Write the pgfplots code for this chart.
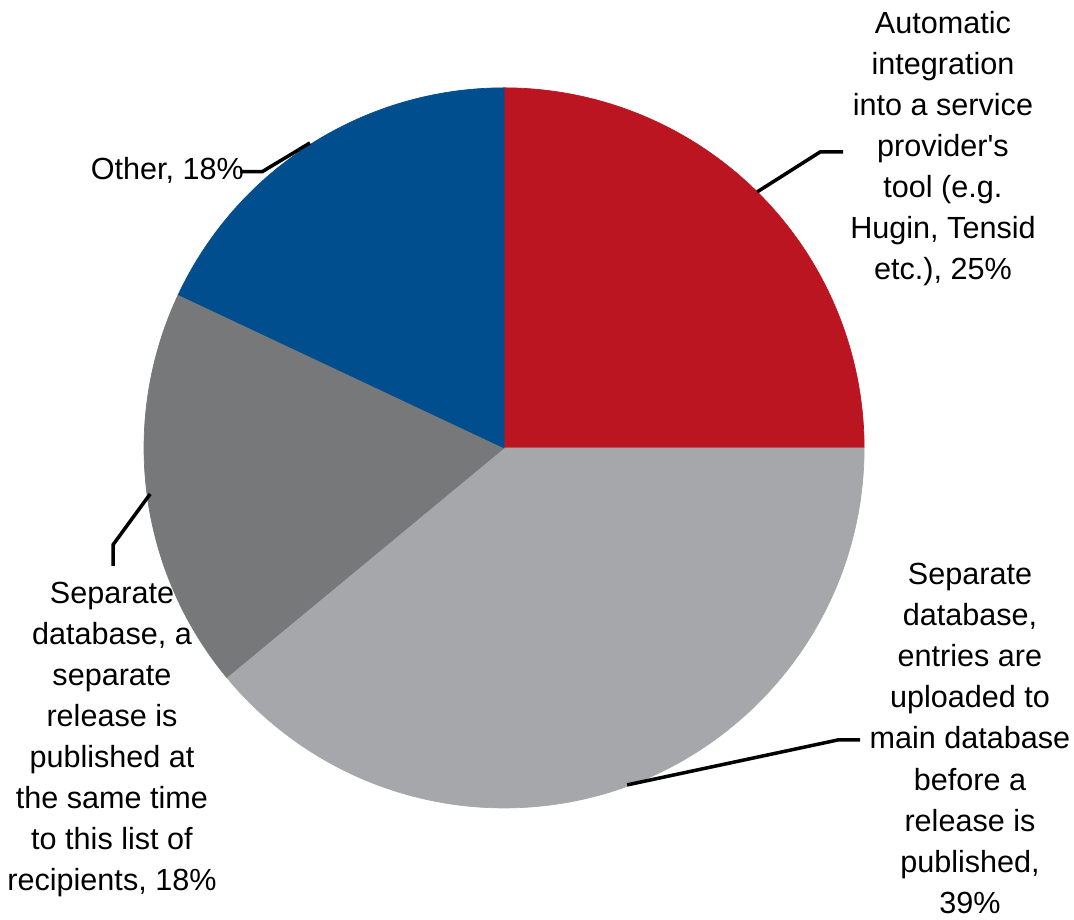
\documentclass[border=0pt]{standalone}
\usepackage{fontspec}
\setmainfont{Liberation Sans}
\usepackage{pgfplots}
\usepackage{pgfplotstable}
\pgfplotsset{compat=1.18}

\definecolor{pieRed}{RGB}{187,21,34}
\definecolor{pieLight}{RGB}{166,167,170}
\definecolor{pieDark}{RGB}{119,120,122}
\definecolor{pieBlue}{RGB}{0,78,142}

\tikzset{lbl/.style={font=\fontsize{8.7}{11.7}\selectfont, align=center, text=black, inner sep=0pt}}

% shares in percent, clockwise from 12 o'clock
\pgfplotstableread[col sep=comma]{
share,color
25,pieRed
39,pieLight
18,pieDark
18,pieBlue
}\piedata

\begin{document}
\begin{tikzpicture}
% cumulative angles of the slices
\def\cumangle{90}
\pgfplotsforeachungrouped \i in {0,...,3}{
  \pgfplotstablegetelem{\i}{share}\of\piedata
  \pgfmathsetmacro\endangle{\cumangle-3.6*\pgfplotsretval}
  \expandafter\xdef\csname pieS\i\endcsname{\cumangle}
  \expandafter\xdef\csname pieE\i\endcsname{\endangle}
  \pgfplotstablegetelem{\i}{color}\of\piedata
  \expandafter\xdef\csname pieC\i\endcsname{\pgfplotsretval}
  \xdef\cumangle{\endangle}
}
\begin{axis}[
  hide axis,
  x=36mm, y=36mm,
  xmin=-1.4, xmax=1.583,
  ymin=-1.311, ymax=1.244,
  clip=false,
]
\path (axis cs:-1.4,-1.311) rectangle (axis cs:1.583,1.244);
\pgfplotsinvokeforeach{0,...,3}{
  \fill[fill=\csname pieC#1\endcsname, draw=\csname pieC#1\endcsname, line width=0.2pt]
    (axis cs:0,0) -- ++(\csname pieS#1\endcsname:36mm)
    arc[start angle=\csname pieS#1\endcsname, end angle=\csname pieE#1\endcsname, radius=36mm] -- cycle;
}
% leader lines
\draw[line width=1pt] (axis cs:0.703,0.711) -- (axis cs:0.878,0.822) -- (axis cs:0.942,0.822);
\draw[line width=1pt] (axis cs:-0.539,0.847) -- (axis cs:-0.672,0.767) -- (axis cs:-0.733,0.767);
\draw[line width=1pt] (axis cs:-0.983,-0.128) -- (axis cs:-1.086,-0.269) -- (axis cs:-1.086,-0.328);
\draw[line width=1pt] (axis cs:0.342,-0.936) -- (axis cs:0.928,-0.811) -- (axis cs:0.989,-0.811);
% labels
\node[lbl] at (axis cs:1.219,0.831) {Automatic\\integration\\into a service\\provider\textquotesingle s\\tool (e.g.\\Hugin, Tensid\\etc.), 25\%};
\node[lbl] at (axis cs:1.294,-0.807) {Separate\\database,\\entries are\\uploaded to\\main database\\before a\\release is\\published,\\39\%};
\node[lbl] at (axis cs:-1.089,-0.810) {Separate\\database, a\\separate\\release is\\published at\\the same time\\to this list of\\recipients, 18\%};
\node[lbl] at (axis cs:-0.935,0.772) {Other, 18\%};
\end{axis}
\end{tikzpicture}
\end{document}
